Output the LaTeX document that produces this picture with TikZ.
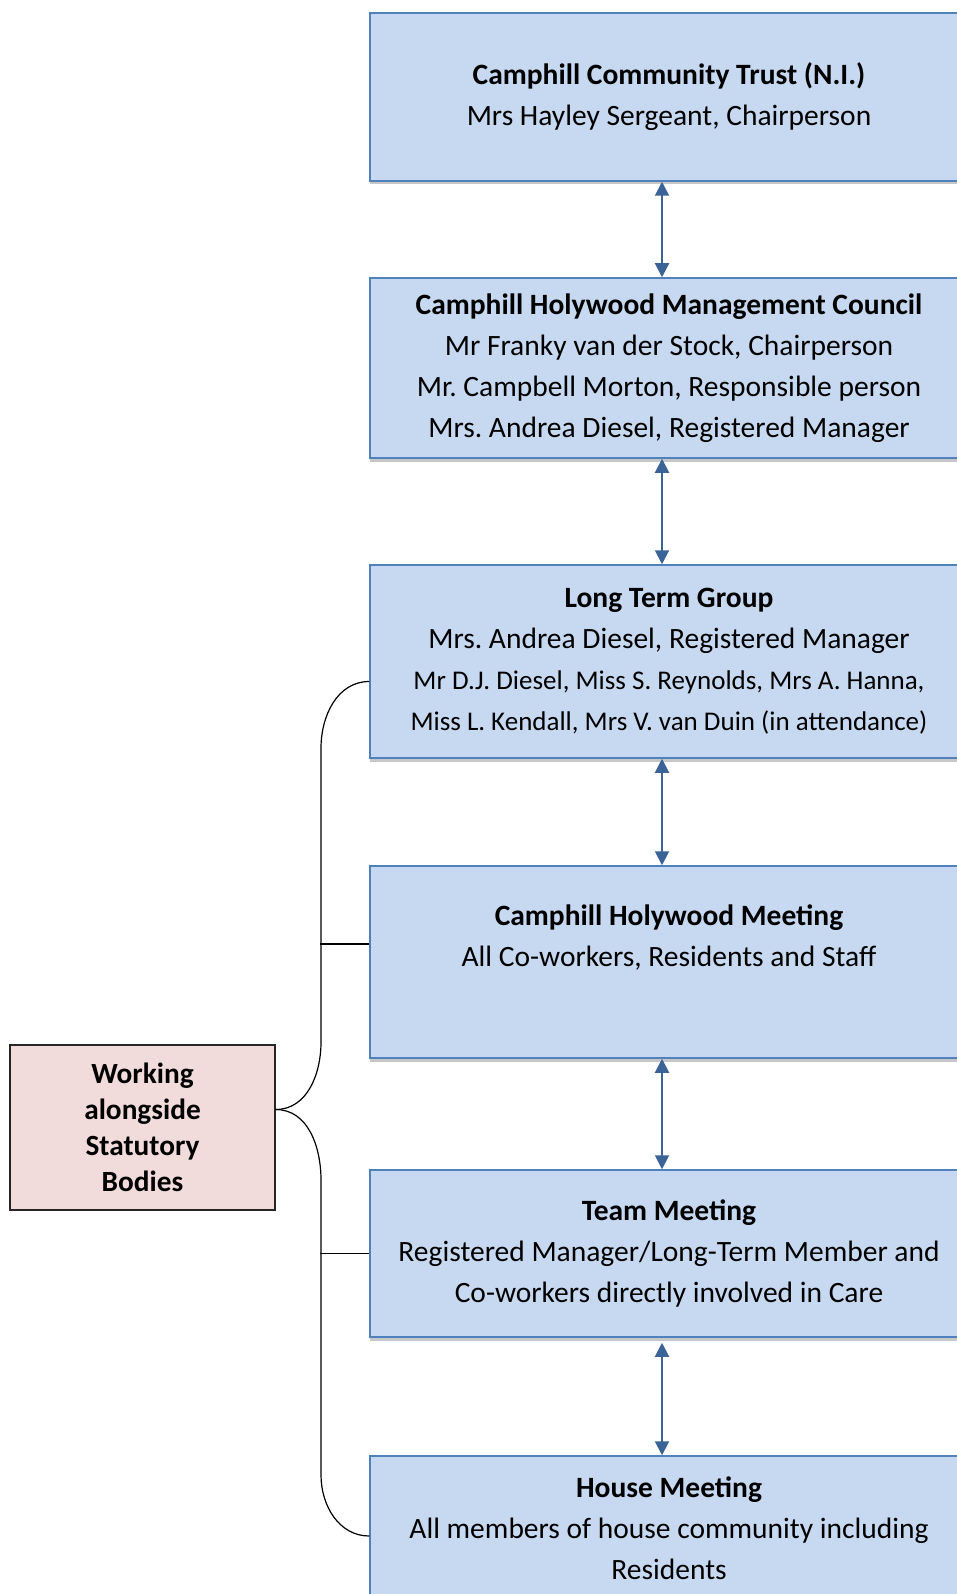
\documentclass[tikz,border=0pt]{standalone}
\usepackage{fontspec}
\setmainfont{Carlito}
\usetikzlibrary{arrows.meta,shadows}
\frenchspacing
\definecolor{boxfill}{HTML}{C6D9F1}
\definecolor{boxline}{HTML}{4F81BD}
\definecolor{arrowblue}{HTML}{3A6497}
\definecolor{pinkfill}{HTML}{F2DCDB}
\tikzset{
  orgbox/.style={draw=boxline, line width=1.5pt, fill=boxfill, inner sep=0pt,
    minimum width=598pt, align=center, font=\fontsize{29.5}{41}\selectfont,
    general shadow={fill=black!22, shadow yshift=-3.5pt}},
  sidebox/.style={draw=black!85, line width=1.2pt, fill=pinkfill, inner sep=0pt,
    minimum width=265pt, minimum height=165pt, align=center,
    font=\bfseries\fontsize{29.3}{36}\selectfont},
  link/.style={draw=arrowblue, line width=2pt, >={Triangle[length=14pt,width=14pt]}, <->},
  brace/.style={draw=black, line width=1.2pt}
}
\begin{document}
\begin{tikzpicture}[x=1pt,y=-1pt]
    \useasboundingbox (0,0) rectangle (957,1594);
    \coordinate (spine) at (662,0);
    %riquadri
    \node[orgbox, minimum height=168pt] (trust) at (669,97)
        {\textbf{Camphill Community Trust (N.I.)}\\Mrs Hayley Sergeant, Chairperson};
    \node[orgbox, minimum height=180pt] (council) at (669,368)
        {\textbf{Camphill Holywood Management Council}\\Mr Franky van der Stock, Chairperson\\
         Mr. Campbell Morton, Responsible person\\Mrs. Andrea Diesel, Registered Manager};
    \node[orgbox, minimum height=193pt] (longterm) at (669,661.5)
        {\textbf{Long Term Group}\\Mrs. Andrea Diesel, Registered Manager\\
         {\fontsize{27}{39}\selectfont Mr D.J. Diesel, Miss S. Reynolds, Mrs A. Hanna,}\\
         {\fontsize{27}{39}\selectfont Miss L. Kendall, Mrs V. van Duin (in attendance)}};
    \node[orgbox, minimum height=192pt] (holymeet) at (669,962)
        {\textbf{Camphill Holywood Meeting}\\All Co-workers, Residents and Staff\\ \strut};
    \node[orgbox, minimum height=167pt] (teammeet) at (669,1253.5)
        {\textbf{Team Meeting}\\Registered Manager/Long-Term Member and\\Co-workers directly involved in Care};
    \node[orgbox, minimum height=144pt] (housemeet) at (669,1528)
        {\textbf{House Meeting}\\All members of house community including\\Residents};
    \node[sidebox] (statutory) at (142.5,1127.5) {Working\\alongside\\Statutory\\Bodies};
    %frecce
    \draw[link] (trust.south -| spine) -- (council.north -| spine);
    \draw[link] (council.south -| spine) -- (longterm.north -| spine);
    \draw[link] (longterm.south -| spine) -- (holymeet.north -| spine);
    \draw[link] (holymeet.south -| spine) -- (teammeet.north -| spine);
    \draw[link] ([yshift=-5pt]teammeet.south -| spine) -- (housemeet.north -| spine);
    %parentesi
    \draw[brace] ([yshift=18pt]statutory.east) to[out=0,in=-90] (321,1042)
        -- (321,748) to[out=90,in=180] ([yshift=-20pt]longterm.west);
    \draw[brace] ([yshift=18pt]statutory.east) to[out=0,in=90] (321,1180)
        -- (321,1475) to[out=-90,in=180] ([yshift=-8pt]housemeet.west);
    \draw[brace] ([yshift=18pt]holymeet.west) -- ++(-49,0);
    \draw[brace] (teammeet.west) -- ++(-49,0);
\end{tikzpicture}
\end{document}
